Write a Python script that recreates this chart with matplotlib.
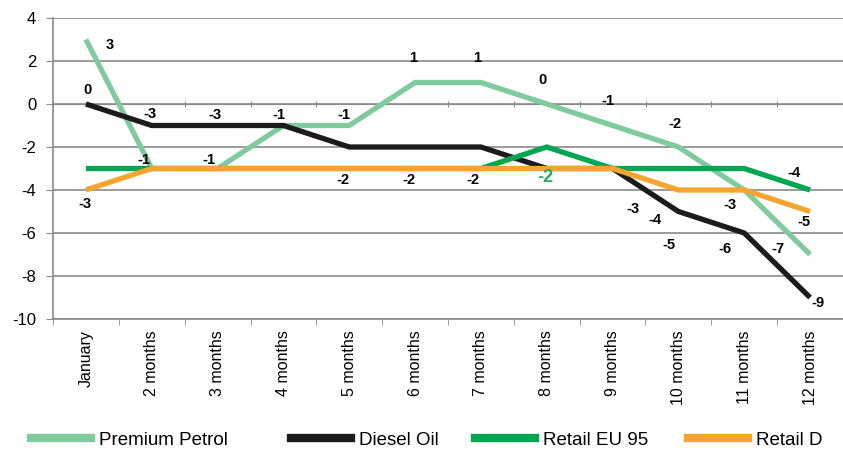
import matplotlib
matplotlib.use("Agg")
import matplotlib.pyplot as plt
from matplotlib.lines import Line2D

plt.rcParams['font.family'] = ['Liberation Sans', 'DejaVu Sans']

categories = ["January", "2 months", "3 months", "4 months", "5 months", "6 months",
              "7 months", "8 months", "9 months", "10 months", "11 months", "12 months"]

premium_petrol = [3, -3, -3, -1, -1, 1, 1, 0, -1, -2, -4, -7]
diesel_oil = [0, -1, -1, -1, -2, -2, -2, -3, -3, -5, -6, -9]
retail_eu95 = [-3, -3, -3, -3, -3, -3, -3, -2, -3, -3, -3, -4]
retail_d = [-4, -3, -3, -3, -3, -3, -3, -3, -3, -4, -4, -5]

series_names = ["Premium Petrol", "Diesel Oil", "Retail EU 95", "Retail D"]
series_colors = ["#80cb9d", "#1b1b1b", "#00a651", "#f4a530"]

# data label texts with their anchor positions (category index, value axis)
label_texts = ["3", "0", "-3", "-3", "-1", "-3", "-1", "-1", "-1", "-2", "1", "-2",
               "1", "-2", "0", "-2", "-1", "-2", "-3", "-4", "-5", "-3", "-6", "-7",
               "-4", "-5", "-9"]
label_x = [0.36, 0.03, -0.02, 0.98, 0.88, 1.96, 1.87, 2.93, 3.92, 3.91, 4.97, 4.9,
           5.95, 5.88, 6.93, 6.98, 7.93, 8.94, 8.31, 8.65, 8.86, 9.79, 9.7, 10.51,
           10.75, 10.9, 11.12]
label_y = [2.74, 0.65, -4.65, -0.45, -2.6, -0.5, -2.6, -0.5, -0.5, -3.53, 2.14, -3.53,
           2.14, -3.53, 1.12, -3.44, 0.15, -0.95, -4.9, -5.4, -6.56, -4.7, -6.74, -6.74,
           -3.21, -5.49, -9.26]
label_colors = ["#000000"] * 15 + ["#2ca66e"] + ["#000000"] * 11

# left edge of each legend entry, in figure pixels
legend_left_px = [31, 291, 475, 688]

fig = plt.figure(figsize=(8.43, 4.5), dpi=100)
ax = fig.add_axes([53 / 843, 1 - 319 / 450, 1 - 53 / 843, (319 - 18) / 450])

x = list(range(len(categories)))
for vals, name, col in zip([premium_petrol, diesel_oil, retail_eu95, retail_d],
                           series_names, series_colors):
    ax.plot(x, vals, color=col, lw=3.8, solid_joinstyle='miter', solid_capstyle='butt',
            label=name, zorder=3)

for t, lx, ly, c in zip(label_texts, label_x, label_y, label_colors):
    big = c != "#000000"
    ax.text(lx, ly, t, ha='center', va='center', fontsize=13 if big else 10.5,
            fontweight='bold', color=c, zorder=5)

ax.set_xlim(-0.495, 11.35)
ax.set_ylim(-10, 4)
ax.set_yticks(range(-10, 5, 2))
ax.set_yticklabels([str(v) for v in range(-10, 5, 2)], fontsize=12)
ax.yaxis.grid(True, color="#8a8a8a", lw=1.2)
ax.set_axisbelow(True)

ax.set_xticks(x)
ax.set_xticklabels(categories, rotation=90, fontsize=11.5, va='top')
ax.tick_params(axis='x', length=0, pad=8)
ax.set_xticks([i + 0.5 for i in range(-1, 12)], minor=True)
ax.tick_params(axis='x', which='minor', length=4, direction='out', color="#8a8a8a")
ax.tick_params(axis='y', length=5, direction='out', color="#8a8a8a", pad=7)

for s in ['top', 'right']:
    ax.spines[s].set_visible(False)
for s in ['left', 'bottom']:
    ax.spines[s].set_color("#8a8a8a")
    ax.spines[s].set_linewidth(1.2)

# crossing axis at zero with category boundary ticks
zero_axis = ax.secondary_xaxis(10 / 14)
zero_axis.set_xticks([i + 0.5 for i in range(-1, 12)])
zero_axis.set_xticklabels([])
zero_axis.tick_params(length=5, direction='inout', color="#8a8a8a")
zero_axis.spines['bottom'].set_visible(False)
zero_axis.spines['top'].set_color("#8a8a8a")

for name, col, px in zip(series_names, series_colors, legend_left_px):
    fig.legend([Line2D([0], [0], color=col, lw=6)], [name], loc='center left',
               bbox_to_anchor=(px / 843, 1 - 440 / 450), frameon=False, fontsize=13.5,
               handlelength=3.2, handletextpad=0.45, borderaxespad=0, borderpad=0)

fig.savefig("out.png", dpi=100)
